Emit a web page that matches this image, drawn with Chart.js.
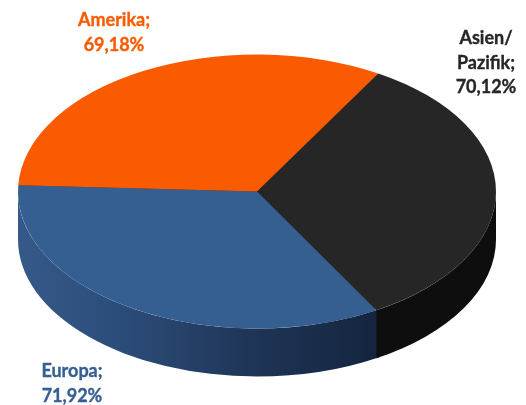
<!DOCTYPE html>
<html lang="de">
<head>
<meta charset="utf-8">
<title>Anteile nach Region</title>
<script src="https://cdn.jsdelivr.net/npm/chart.js@4/dist/chart.umd.js"></script>
<style>
  html, body { margin: 0; padding: 0; background: #fff; }
  canvas { display: block; }
</style>
</head>
<body>
<canvas id="regionChart" width="526" height="405"></canvas>
<script>
const regionLabels = [["Asien/", "Pazifik;"], ["Europa;"], ["Amerika;"]];
const regionValues = [70.12, 71.92, 69.18];
const regionColors = ["#262626", "#365f91", "#fa5a00"];

// Tilted disc: ellipse of the top face and height of the side wall
const disc = { x: 257, y: 191.5, rx: 239, ry: 137, depth: 48 };
const startRotation = 30.5;

// Where each label block is centred, same order as the regions
const labelCenters = [
  { x: 486, y: 63 },
  { x: 72, y: 383.5 },
  { x: 114, y: 32.5 },
];
const labelLineHeight = 24.5;

function wallFill(ctx, index) {
  if (index === 0) return "#0e0e0e";
  const gradient = ctx.createLinearGradient(disc.x - disc.rx, 0, 376, 0);
  gradient.addColorStop(0, "#35598a");
  gradient.addColorStop(0.3, "#2b4c78");
  gradient.addColorStop(0.65, "#1f3557");
  gradient.addColorStop(1, "#14253e");
  return gradient;
}

function drawWall(ctx, from, to, fill) {
  ctx.beginPath();
  ctx.ellipse(disc.x, disc.y, disc.rx, disc.ry, 0, from, to);
  ctx.ellipse(disc.x, disc.y + disc.depth, disc.rx, disc.ry, 0, to, from, true);
  ctx.closePath();
  ctx.fillStyle = fill;
  ctx.fill();
}

const discPlugin = {
  id: "disc",
  beforeDatasetsDraw(chart) {
    const { ctx } = chart;
    const arcs = chart.getDatasetMeta(0).data;

    // Side wall shows only on the front half of the ellipse.
    // Drawn back to front with a small overlap so no seam shows between parts.
    for (let i = arcs.length - 1; i >= 0; i--) {
      const from = Math.max(arcs[i].startAngle - 0.01, 0);
      const to = Math.min(arcs[i].endAngle, Math.PI);
      if (to > from) drawWall(ctx, from, to, wallFill(ctx, i));
    }

    // Dark base so the joins between slices stay dark
    ctx.beginPath();
    ctx.ellipse(disc.x, disc.y, disc.rx - 1, disc.ry - 1, 0, 0, Math.PI * 2);
    ctx.fillStyle = regionColors[0];
    ctx.fill();

    // Squash the round pie into the top face
    const r = arcs[0].outerRadius;
    ctx.save();
    ctx.translate(disc.x, disc.y);
    ctx.scale(disc.rx / r, disc.ry / r);
    ctx.translate(-arcs[0].x, -arcs[0].y);
  },
  afterDatasetsDraw(chart) {
    const { ctx } = chart;
    ctx.restore();

    ctx.save();
    ctx.font = 'bold 18px Lato, "Open Sans", sans-serif';
    ctx.textAlign = "center";
    ctx.textBaseline = "middle";
    ctx.lineWidth = 0.35;
    regionLabels.forEach((label, i) => {
      const value = regionValues[i].toFixed(2).replace(".", ",") + "%";
      const lines = [...label, value];
      const top = labelCenters[i].y - ((lines.length - 1) * labelLineHeight) / 2;
      ctx.fillStyle = regionColors[i];
      ctx.strokeStyle = regionColors[i];
      lines.forEach((line, n) => {
        ctx.fillText(line, labelCenters[i].x, top + n * labelLineHeight);
        ctx.strokeText(line, labelCenters[i].x, top + n * labelLineHeight);
      });
    });
    ctx.restore();
  },
};

new Chart(document.getElementById("regionChart"), {
  type: "pie",
  data: {
    labels: regionLabels.map((label) => label.join(" ")),
    datasets: [
      {
        data: regionValues,
        backgroundColor: regionColors,
        borderWidth: 0,
        clip: false,
      },
    ],
  },
  options: {
    responsive: false,
    animation: false,
    rotation: startRotation,
    plugins: {
      legend: { display: false },
      tooltip: { enabled: false },
    },
  },
  plugins: [discPlugin],
});
</script>
</body>
</html>
